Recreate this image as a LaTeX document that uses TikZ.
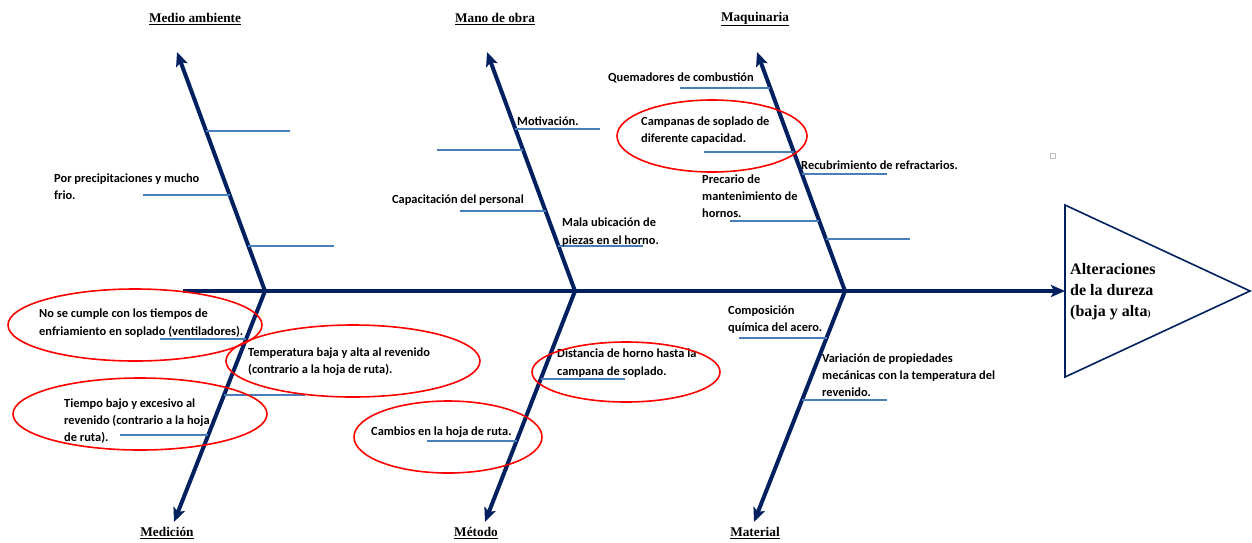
\documentclass[tikz,border=0pt]{standalone}
\usepackage{fontspec}
\setmainfont{Liberation Serif}
\newfontfamily\causefont{Carlito}
\usepackage{tikz}
\usetikzlibrary{calc, arrows.meta}
\definecolor{boneNavy}{RGB}{0,32,96}
\definecolor{twigBlue}{RGB}{74,126,187}
\newcommand{\causeSize}{\fontsize{12.4}{17.3}\selectfont}
\newcommand{\catSize}{\fontsize{13.3}{15}\selectfont}
\tikzset{
    bone/.style = {draw=boneNavy, line width=4pt, -{Stealth[length=14pt,width=12pt,inset=3pt]}},
    twig/.style = {draw=twigBlue, line width=1.8pt},
    cause/.style = {anchor=west, align=left, inner sep=0pt, font=\causefont\bfseries\causeSize},
    ring/.style = {draw=red, line width=1.6pt},
    category/.style = {inner sep=0pt, font=\bfseries\catSize}
}

\begin{document}
\begin{tikzpicture}[x={(1pt,0pt)}, y={(0pt,-1pt)}]
    \useasboundingbox (0,0) rectangle (1252,542);

    % spine and joints
    \coordinate (Tail) at (183,291);
    \coordinate (J1) at (265,291);
    \coordinate (J2) at (575,291);
    \coordinate (J3) at (845,291);
    \coordinate (Tip) at (1065,291);

    % bone ends
    \coordinate (MA) at (177,52);
    \coordinate (MO) at (487,52);
    \coordinate (MQ) at (757,52);
    \coordinate (ME) at (174,522);
    \coordinate (MT) at (485,522);
    \coordinate (ML) at (754,522);

    % head
    \coordinate (H1) at (1065,205);
    \coordinate (H2) at (1250,291);
    \coordinate (H3) at (1065,377);
    \draw[draw=boneNavy, line width=1.6pt, line join=miter] (H1) -- (H2) -- (H3) -- cycle;
    \node[anchor=west, align=left, inner sep=0pt, font=\bfseries\fontsize{16}{21}\selectfont] (effect) at (1070,292)
        {Alteraciones\\de la dureza\\(baja y alta{\fontsize{9}{9}\selectfont)}};

    \draw[bone] (Tail) -- (Tip);
    \draw[bone] (J1) -- (MA);
    \draw[bone] (J2) -- (MO);
    \draw[bone] (J3) -- (MQ);
    \draw[bone] (J1) -- (ME);
    \draw[bone] (J2) -- (MT);
    \draw[bone] (J3) -- (ML);

    % twigs
    \foreach \t/\dx in {0.669/84, 0.402/-87, 0.188/86}{
        \draw[twig] ($(J1)!\t!(MA)$) -- ++(\dx,0);
    }
    \foreach \t/\dx in {0.678/85, 0.590/-86, 0.335/-86, 0.188/85}{
        \draw[twig] ($(J2)!\t!(MO)$) -- ++(\dx,0);
    }
    \foreach \t/\dx in {0.849/-90, 0.582/-90, 0.490/85, 0.293/-89, 0.218/84}{
        \draw[twig] ($(J3)!\t!(MQ)$) -- ++(\dx,0);
    }
    \foreach \t/\dx in {0.208/-86, 0.450/81, 0.623/-88}{
        \draw[twig] ($(J1)!\t!(ME)$) -- ++(\dx,0);
    }
    \foreach \t/\dx in {0.381/84, 0.649/-90}{
        \draw[twig] ($(J2)!\t!(MT)$) -- ++(\dx,0);
    }
    \foreach \t/\dx in {0.203/-88, 0.472/85}{
        \draw[twig] ($(J3)!\t!(ML)$) -- ++(\dx,0);
    }

    % categories
    \node[category] (catMA) at (195,19) {\underline{Medio ambiente}};
    \node[category] (catMO) at (495,19) {\underline{Mano de obra}};
    \node[category] (catMQ) at (755,19) {\underline{Maquinaria}};
    \node[category] (catME) at (167,533) {\underline{Medición}};
    \node[category] (catMT) at (476,533) {\underline{Método}};
    \node[category] (catML) at (755,533) {\underline{Material}};

    % causes
    \node[cause] (c1) at (54,187) {Por precipitaciones y mucho\\frio.};
    \node[cause] (c2) at (517,121) {Motivación.};
    \node[cause, anchor=east] (c3) at (524,200) {Capacitación del personal};
    \node[cause] (c4) at (562,232) {Mala ubicación de\\piezas en el horno.};
    \node[cause] (c5) at (608,78) {Quemadores de combustión};
    \node[cause] (c6) at (641,130.5) {Campanas de soplado de\\diferente capacidad.};
    \node[cause] (c7) at (801,165) {Recubrimiento de refractarios.};
    \node[cause] (c8) at (702,196) {Precario de\\mantenimiento de\\hornos.};
    \node[cause] (c9) at (39,323) {No se cumple con los tiempos de\\enfriamiento en soplado (ventiladores).};
    \node[cause] (c10) at (248,362) {Temperatura baja y alta al revenido\\(contrario a la hoja de ruta).};
    \node[cause] (c11) at (64,421) {Tiempo bajo y excesivo al\\revenido (contrario a la hoja\\de ruta).};
    \node[cause] (c12) at (557,363) {Distancia de horno hasta la\\campana de soplado.};
    \node[cause] (c13) at (371,432) {Cambios en la hoja de ruta.};
    \node[cause] (c14) at (728,319.5) {Composición\\química del acero.};
    \node[cause] (c15) at (822,375) {Variación de propiedades\\mecánicas con la temperatura del\\revenido.};

    % red rings
    \draw[ring] (135,325) ellipse (127 and 36);
    \draw[ring] (353,361) ellipse (127 and 36);
    \draw[ring] (140,414) ellipse (127 and 36);
    \draw[ring] (712,136) ellipse (95 and 36);
    \draw[ring] (626,372) ellipse (94 and 30);
    \draw[ring] (448,437) ellipse (94 and 36);

    \draw[gray!50, line width=0.6pt] (1050,153) rectangle (1055,158);
\end{tikzpicture}
\end{document}
